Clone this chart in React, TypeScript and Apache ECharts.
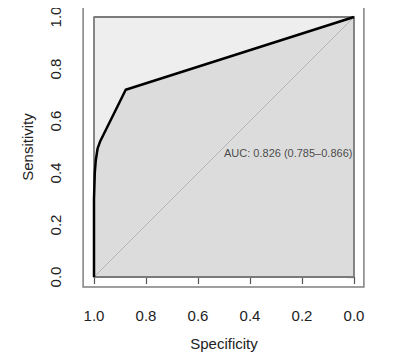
import React, { useEffect, useRef } from "react";
import * as echarts from "echarts";

const specificity = [1.0, 1.0, 0.997, 0.993, 0.986, 0.977, 0.878, 0.0];
const sensitivity = [0.0, 0.3, 0.4, 0.45, 0.495, 0.52, 0.72, 1.0];
const tickValues = [0, 0.2, 0.4, 0.6, 0.8, 1.0];
const aucValue = 0.826;
const aucCI = [0.785, 0.866];
const aucLabelPos = [0.5, 0.477];

const FONT = '"Liberation Sans", Arial, Helvetica, sans-serif';
const GL = 86;
const GT = 9;
const GS = 260;
const EXT = GS * 0.04;

export default function App() {
  const ref = useRef<HTMLDivElement>(null);
  useEffect(() => {
    if (!ref.current) return;
    const chart = echarts.init(ref.current, null, { renderer: "svg" });
    const roc = specificity.map((s, i) => [s, sensitivity[i]]);
    const fmt = (v: number) => v.toFixed(1);
    chart.setOption({
      animation: false,
      backgroundColor: "#ffffff",
      grid: {
        left: GL,
        top: GT,
        width: GS,
        height: GS,
        containLabel: false,
        outerBoundsMode: "none",
        show: false,
      },
      xAxis: {
        type: "value",
        min: 0,
        max: 1,
        interval: 0.2,
        inverse: true,
        offset: EXT + 0.6,
        name: "Specificity",
        nameLocation: "middle",
        nameGap: 48,
        nameTextStyle: { fontFamily: FONT, fontSize: 15, color: "#222" },
        axisLine: { show: false },
        axisTick: { show: true, length: 7, lineStyle: { color: "#555", width: 1.2 } },
        axisLabel: {
          fontFamily: FONT,
          fontSize: 15,
          color: "#222",
          margin: 20,
          formatter: (v: number) => (tickValues.includes(Math.round(v * 10) / 10) ? fmt(v) : ""),
        },
        splitLine: { show: false },
      },
      yAxis: {
        type: "value",
        min: 0,
        max: 1,
        interval: 0.2,
        offset: EXT + 0.6,
        name: "Sensitivity",
        nameLocation: "middle",
        nameGap: 48,
        nameTextStyle: { fontFamily: FONT, fontSize: 15, color: "#222" },
        axisLine: { show: false },
        axisTick: { show: true, length: 7, lineStyle: { color: "#555", width: 1.2 } },
        axisLabel: {
          fontFamily: FONT,
          fontSize: 15,
          color: "#222",
          margin: 20,
          rotate: 90,
          formatter: (v: number) => fmt(v),
        },
        splitLine: { show: false },
      },
      graphic: [
        {
          type: "rect",
          shape: { x: GL - EXT - 0.5, y: GT - EXT - 0.5, width: GS + 2 * EXT, height: GS + 2 * EXT },
          style: { fill: "none", stroke: "#808080", lineWidth: 1.5 },
          z: 100,
        },
      ],
      series: [
        {
          type: "line",
          data: [
            [1, 1],
            [0, 1],
          ],
          symbol: "none",
          lineStyle: { width: 0 },
          areaStyle: { color: "#eeeeee", opacity: 1 },
          z: 1,
        },
        {
          type: "line",
          data: roc,
          symbol: "none",
          lineStyle: { width: 0 },
          areaStyle: { color: "#dcdcdc", opacity: 1 },
          z: 2,
        },
        {
          type: "line",
          data: [
            [1.04, -0.04],
            [-0.04, 1.04],
          ],
          clip: false,
          symbol: "none",
          lineStyle: { color: "#b4b4b4", width: 1 },
          z: 3,
        },
        {
          type: "line",
          data: [
            [0, 0],
            [1, 0],
            [1, 1],
            [0, 1],
            [0, 0],
          ],
          clip: false,
          symbol: "none",
          lineStyle: { color: "#7a7a7a", width: 1.8 },
          z: 4,
        },
        {
          type: "line",
          data: roc,
          clip: false,
          symbol: "none",
          lineStyle: { color: "#000", width: 2.5, join: "round" },
          z: 5,
        },
        {
          type: "scatter",
          data: [aucLabelPos],
          symbolSize: 0,
          z: 6,
          label: {
            show: true,
            position: "right",
            distance: 0,
            fontFamily: FONT,
            fontSize: 11,
            color: "#222",
            formatter: () =>
              `AUC: ${aucValue.toFixed(3)} (${aucCI[0].toFixed(3)}\u2013${aucCI[1].toFixed(3)})`,
          },
        },
      ],
    });
    return () => chart.dispose();
  }, []);
  return <div ref={ref} style={{ width: 407, height: 350 }} />;
}
